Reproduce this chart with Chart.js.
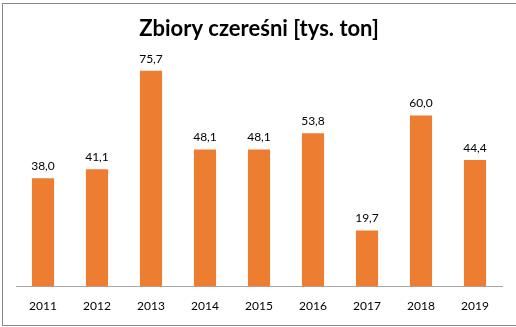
<!DOCTYPE html>
<html lang="pl">
<head>
    <meta charset="UTF-8">
    <title>Zbiory czereśni</title>
    <style>
        body {
            margin: 0;
            padding: 0;
            background: #fff;
        }
        #frame {
            position: absolute;
            left: 2px;
            top: 3px;
            width: 520px;
            height: 323px;
            border: 1px solid #888;
            box-sizing: border-box;
        }
        #chart-box {
            position: absolute;
            left: 0;
            top: 0;
            width: 516px;
            height: 327px;
        }
    </style>
</head>
<body>
    <div id="frame"></div>
    <div id="chart-box">
        <canvas id="myChart"></canvas>
    </div>

    <script src="https://cdn.jsdelivr.net/npm/chart.js"></script>
    <script>
const years = ['2011', '2012', '2013', '2014', '2015', '2016', '2017', '2018', '2019'];
const harvest = [38.0, 41.1, 75.7, 48.1, 48.1, 53.8, 19.7, 60.0, 44.4];

// value labels above the bars, with a Polish decimal comma
const barLabels = {
    id: 'barLabels',
    afterDatasetsDraw(chart) {
        const ctx = chart.ctx;
        const meta = chart.getDatasetMeta(0);
        ctx.save();
        ctx.font = '12px Lato, sans-serif';
        ctx.fillStyle = '#000';
        ctx.textAlign = 'center';
        ctx.textBaseline = 'bottom';
        meta.data.forEach((bar, i) => {
            ctx.fillText(harvest[i].toFixed(1).replace('.', ','), bar.x, bar.y - 6);
        });
        ctx.restore();
    }
};

const ctx = document.getElementById('myChart').getContext('2d');
const myChart = new Chart(ctx, {
    type: 'bar',
    data: {
        labels: years,
        datasets: [{
            data: harvest,
            backgroundColor: '#ED7D31',
            barPercentage: 0.41,
            categoryPercentage: 1.0
        }]
    },
    options: {
        responsive: true,
        maintainAspectRatio: false,
        animation: false,
        layout: {
            padding: { left: 16, right: 14, top: 0, bottom: 2 }
        },
        plugins: {
            legend: { display: false },
            tooltip: { enabled: false },
            title: {
                display: true,
                text: 'Zbiory czereśni [tys. ton]',
                color: '#000',
                font: { family: 'Lato, sans-serif', size: 22, weight: 'bold' },
                padding: { top: 16, bottom: 16 }
            }
        },
        scales: {
            x: {
                grid: { display: false, drawTicks: false },
                border: { display: true, color: '#A6A6A6', width: 1 },
                ticks: {
                    color: '#000',
                    padding: 12,
                    font: { family: 'Lato, sans-serif', size: 12 }
                }
            },
            y: {
                display: false,
                min: 0,
                max: 80
            }
        }
    },
    plugins: [barLabels]
});
    </script>
</body>
</html>
